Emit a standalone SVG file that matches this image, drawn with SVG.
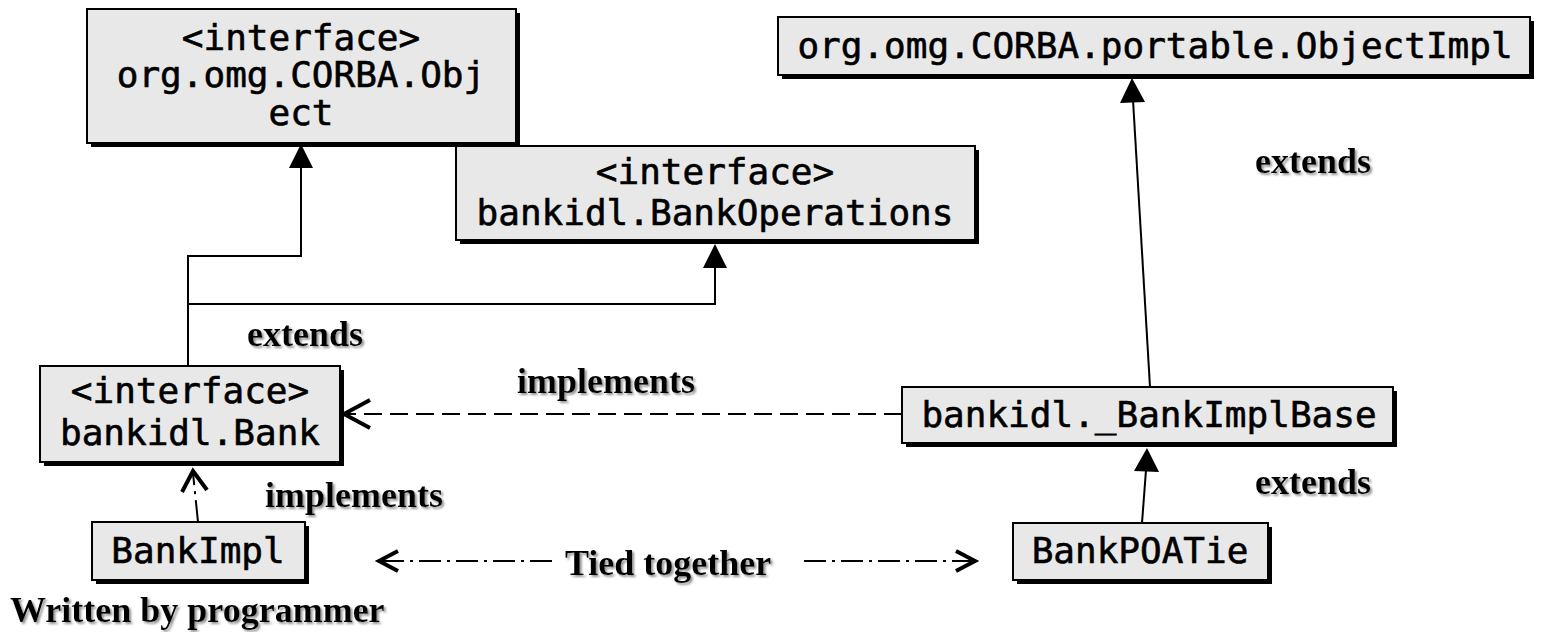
<svg xmlns="http://www.w3.org/2000/svg" width="1541" height="632" viewBox="0 0 1541 632">
<style>
.shadow{fill:#000}
.box{fill:#e8e8e8;stroke:#000;stroke-width:2}
.mono{font-family:"DejaVu Sans Mono",monospace;font-size:36px;fill:#000;stroke:#000;stroke-width:0.6;text-anchor:middle}
.lbl{font-family:"Liberation Serif","Times New Roman",serif;font-size:36px;font-weight:bold;fill:#000;filter:url(#ts)}
.ln{fill:none;stroke:#000;stroke-width:2}
.dash{fill:none;stroke:#000;stroke-width:2;stroke-dasharray:18 8}
.dd{fill:none;stroke:#000;stroke-width:2;stroke-dasharray:22 6 3 6}
.open{fill:none;stroke:#000;stroke-width:4;stroke-linecap:butt}
</style>
<defs>
<filter id="ts" x="-5%" y="-20%" width="115%" height="150%">
<feDropShadow dx="2" dy="2" stdDeviation="1" flood-color="#888" flood-opacity="0.9"/>
</filter>
</defs>

<g id="connectors">
<polyline class="ln" points="188,366 188,256 301,256 301,168"/>
<polyline class="ln" points="188,304 715,304 715,268"/>
<path d="M301,144 L313,168 L289,168 Z" fill="#000"/>
<path d="M715,244 L727,268 L703,268 Z" fill="#000"/>
<line class="ln" x1="1150" y1="387" x2="1133" y2="100"/>
<path d="M1132,78 L1145,102 L1120,103 Z" fill="#000"/>
<line class="ln" x1="1142" y1="523" x2="1146" y2="470"/>
<path d="M1147,448 L1159,472 L1134,471 Z" fill="#000"/>
<line class="dash" x1="902" y1="414" x2="345" y2="414"/>
<polyline class="open" points="370,400 344,414 370,428"/>
<line class="dd" x1="198" y1="522" x2="193" y2="473"/>
<polyline class="open" points="182,492 193,471 207,490"/>
<line class="dd" x1="552" y1="561" x2="380" y2="561"/>
<polyline class="open" points="398,551 379,561 398,571"/>
<line class="dd" x1="804" y1="561" x2="974" y2="561"/>
<polyline class="open" points="956,551 975,561 956,571"/>
</g>

<g id="node-corba-object">
<rect class="shadow" x="91" y="13" width="429" height="134"/>
<rect class="box" x="87" y="9" width="429" height="134"/>
<text class="mono" x="301" y="50">&lt;interface&gt;</text>
<text class="mono" x="301" y="87">org.omg.CORBA.Obj</text>
<text class="mono" x="301" y="125">ect</text>
</g>

<g id="node-bank-operations">
<rect class="shadow" x="460" y="150" width="519" height="94"/>
<rect class="box" x="456" y="146" width="519" height="94"/>
<text class="mono" x="715" y="184">&lt;interface&gt;</text>
<text class="mono" x="715" y="225">bankidl.BankOperations</text>
</g>

<g id="node-object-impl">
<rect class="shadow" x="782" y="21" width="752" height="58"/>
<rect class="box" x="778" y="17" width="752" height="58"/>
<text class="mono" x="1155" y="58">org.omg.CORBA.portable.ObjectImpl</text>
</g>

<g id="node-bank">
<rect class="shadow" x="44" y="370" width="300" height="96"/>
<rect class="box" x="40" y="366" width="300" height="96"/>
<text class="mono" x="190" y="403">&lt;interface&gt;</text>
<text class="mono" x="190" y="445">bankidl.Bank</text>
</g>

<g id="node-bank-impl">
<rect class="shadow" x="96" y="526" width="213" height="58"/>
<rect class="box" x="92" y="522" width="213" height="58"/>
<text class="mono" x="198" y="563">BankImpl</text>
</g>

<g id="node-bank-impl-base">
<rect class="shadow" x="906" y="391" width="491" height="56"/>
<rect class="box" x="902" y="387" width="491" height="56"/>
<text class="mono" x="1149" y="427">bankidl._BankImplBase</text>
</g>

<g id="node-bank-poa-tie">
<rect class="shadow" x="1017" y="527" width="255" height="57"/>
<rect class="box" x="1013" y="523" width="255" height="57"/>
<text class="mono" x="1140" y="563">BankPOATie</text>
</g>

<g id="labels">
<text class="lbl" x="1255" y="173">extends</text>
<text class="lbl" x="247" y="346">extends</text>
<text class="lbl" x="517" y="393">implements</text>
<text class="lbl" x="1255" y="494">extends</text>
<text class="lbl" x="265" y="507">implements</text>
<text class="lbl" x="565" y="575">Tied together</text>
<text class="lbl" x="10" y="622">Written by programmer</text>
</g>
</svg>
